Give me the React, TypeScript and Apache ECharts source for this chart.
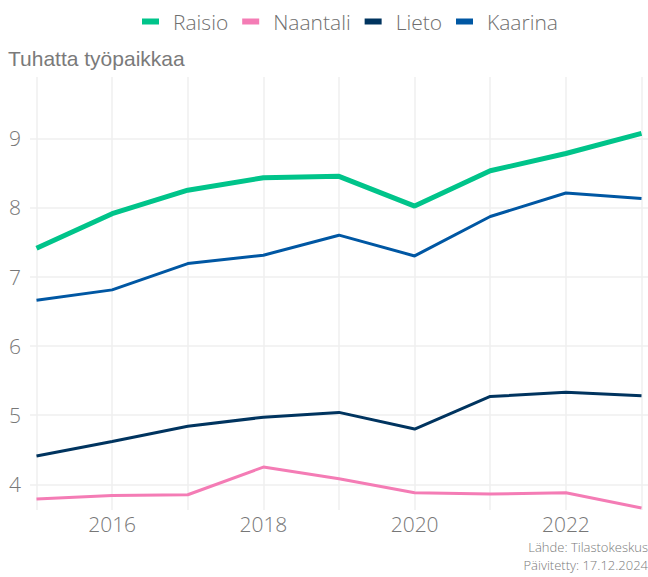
import React, { useEffect, useRef } from "react";
import * as echarts from "echarts";

const years = [2015, 2016, 2017, 2018, 2019, 2020, 2021, 2022, 2023];
const raisio = [7.41, 7.91, 8.25, 8.43, 8.45, 8.02, 8.53, 8.78, 9.07];
const naantali = [3.79, 3.84, 3.85, 4.25, 4.08, 3.88, 3.86, 3.88, 3.66];
const lieto = [4.41, 4.62, 4.84, 4.97, 5.04, 4.8, 5.27, 5.33, 5.28];
const kaarina = [6.66, 6.81, 7.19, 7.31, 7.6, 7.3, 7.87, 8.21, 8.13];
const yTicks = [4, 5, 6, 7, 8, 9];
const xLabels = [2016, 2018, 2020, 2022];

const seriesNames = ["Raisio", "Naantali", "Lieto", "Kaarina"];
const seriesData = [raisio, naantali, lieto, kaarina];
const seriesColors = ["#00c48a", "#f47cb5", "#00345f", "#0057a3"];
const seriesWidths = [5, 3, 3, 3];

export default function App() {
  const ref = useRef<HTMLDivElement>(null);
  useEffect(() => {
    document.body.style.margin = "0";
    const chart = echarts.init(ref.current!, null, { renderer: "svg" });
    const font = "'Open Sans', 'Noto Sans', sans-serif";
    chart.setOption({
      animation: false,
      backgroundColor: "#ffffff",
      legend: {
        top: 6,
        left: 137,
        itemWidth: 17,
        itemHeight: 6,
        itemGap: 14,
        icon: "rect",
        textStyle: { fontSize: 21, color: "#6f6f6f", fontFamily: font, fontWeight: 300, padding: [0, 0, 0, 9] },
        data: seriesNames,
      },
      graphic: [
        {
          type: "text",
          left: 8,
          top: 48,
          style: { text: "Tuhatta työpaikkaa", fontSize: 21, fill: "#7a7a7a", fontWeight: "normal", fontFamily: "'Liberation Sans', Arial, sans-serif" },
        },
        {
          type: "text",
          right: 0,
          top: 540,
          style: { text: "Lähde: Tilastokeskus", fontSize: 13, align: "right", fill: "#7a7a7a", fontFamily: font, fontWeight: 300 },
        },
        {
          type: "text",
          right: 0,
          top: 558,
          style: { text: "Päivitetty: 17.12.2024", fontSize: 13, align: "right", fill: "#7a7a7a", fontFamily: font, fontWeight: 300 },
        },
      ],
      grid: { left: 30, right: 0, top: 77, bottom: 67 },
      xAxis: {
        type: "value",
        min: 2014.914,
        max: 2023.086,
        axisLine: { show: false },
        axisTick: { show: false, customValues: years },
        splitLine: { show: true, lineStyle: { color: "#efefef", width: 1.5 } },
        axisLabel: {
          customValues: xLabels,
          formatter: (v: number) => String(v),
          fontSize: 21,
          color: "#777777",
          fontFamily: font,
          fontWeight: 300,
          margin: 3,
        },
      },
      yAxis: {
        type: "value",
        min: 3.63,
        max: 9.885,
        axisLine: { show: false },
        axisTick: { show: false, customValues: yTicks },
        splitLine: { show: true, lineStyle: { color: "#efefef", width: 1.5 } },
        axisLabel: {
          customValues: yTicks,
          fontSize: 21,
          color: "#777777",
          fontFamily: font,
          fontWeight: 300,
          margin: 9,
        },
      },
      series: seriesNames.map((name, i) => ({
        name,
        type: "line",
        data: years.map((y, j) => [y, seriesData[i][j]]),
        showSymbol: false,
        symbol: "none",
        lineStyle: { color: seriesColors[i], width: seriesWidths[i] },
        itemStyle: { color: seriesColors[i] },
      })),
    });
    return () => chart.dispose();
  }, []);
  return <div ref={ref} style={{ width: 648, height: 577 }} />;
}
